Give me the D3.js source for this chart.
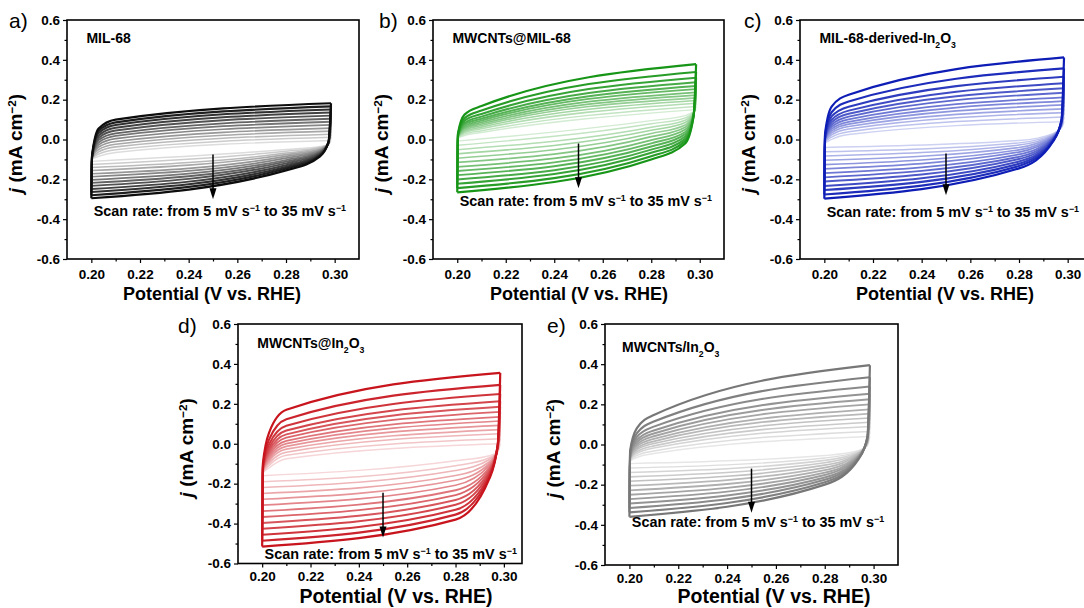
<!DOCTYPE html>
<html>
<head>
<meta charset="utf-8">
<script src="https://cdn.jsdelivr.net/npm/d3@7"></script>
<style>
  body { margin: 0; background: #fff; }
  svg { display: block; font-family: "Liberation Sans", Arial, sans-serif; }
</style>
</head>
<body>
<svg id="fig" width="1084" height="608"></svg>
<script>
// scan rates (mV/s), lightest loop first
const SCAN_RATES = [5, 7.5, 10, 12.5, 15, 17.5, 20, 22.5, 25, 27.5, 30, 32.5, 35];

const X_TICKS = [0.20, 0.22, 0.24, 0.26, 0.28, 0.30];
const X_TICK_LABELS = ["0.20", "0.22", "0.24", "0.26", "0.28", "0.30"];
const X_MINOR = [0.21, 0.23, 0.25, 0.27, 0.29];
const Y_TICKS = [-0.6, -0.4, -0.2, 0, 0.2, 0.4, 0.6];
const Y_TICK_LABELS = ["-0.6", "-0.4", "-0.2", "0.0", "0.2", "0.4", "0.6"];
const Y_MINOR = [-0.5, -0.3, -0.1, 0.1, 0.3, 0.5];

// potentials (V vs RHE) where each branch was read
const UP_X = [0.2000, 0.2003, 0.2030, 0.2100, 0.2985];   // anodic sweep
const LO_X = [0.2000, 0.2800, 0.2940, 0.2975, 0.2985];   // cathodic sweep

// one row per scan rate, j in mA cm-2:
// [0.200 start, up 0.2003, up 0.203, up 0.210, 0.2985 turn, down 0.280, down 0.294, down 0.2975]
const LOOPS_MIL68 = [
  [-0.110, -0.100, -0.085, -0.065, -0.005, -0.050, -0.035, -0.025],
  [-0.125, -0.098, -0.073, -0.051,  0.011, -0.059, -0.039, -0.024],
  [-0.141, -0.097, -0.062, -0.037,  0.026, -0.068, -0.043, -0.022],
  [-0.156, -0.095, -0.050, -0.024,  0.042, -0.076, -0.048, -0.021],
  [-0.172, -0.093, -0.038, -0.010,  0.057, -0.085, -0.052, -0.020],
  [-0.187, -0.092, -0.027,  0.004,  0.073, -0.094, -0.056, -0.019],
  [-0.203, -0.090, -0.015,  0.018,  0.089, -0.103, -0.060, -0.018],
  [-0.218, -0.088, -0.003,  0.031,  0.104, -0.111, -0.064, -0.016],
  [-0.233, -0.087,  0.008,  0.045,  0.120, -0.120, -0.068, -0.015],
  [-0.249, -0.085,  0.020,  0.059,  0.135, -0.129, -0.073, -0.014],
  [-0.264, -0.083,  0.032,  0.073,  0.151, -0.138, -0.077, -0.013],
  [-0.280, -0.082,  0.043,  0.086,  0.166, -0.146, -0.081, -0.011],
  [-0.295, -0.080,  0.055,  0.100,  0.182, -0.155, -0.085, -0.010]
];

const LOOPS_CNT_MIL68 = [
  [-0.008,  0.005,  0.020,  0.035,  0.150,  0.095,  0.120,  0.140],
  [-0.029,  0.007,  0.027,  0.044,  0.166,  0.079,  0.108,  0.138],
  [-0.051,  0.009,  0.035,  0.054,  0.182,  0.062,  0.097,  0.137],
  [-0.072,  0.010,  0.041,  0.062,  0.196,  0.046,  0.085,  0.135],
  [-0.094,  0.012,  0.047,  0.070,  0.209,  0.030,  0.073,  0.133],
  [-0.115,  0.013,  0.054,  0.078,  0.223,  0.014,  0.062,  0.132],
  [-0.137,  0.015,  0.060,  0.086,  0.237, -0.003,  0.050,  0.130],
  [-0.158,  0.016,  0.067,  0.095,  0.253, -0.019,  0.038,  0.128],
  [-0.179,  0.018,  0.075,  0.104,  0.269, -0.035,  0.027,  0.127],
  [-0.201,  0.020,  0.083,  0.115,  0.287, -0.051,  0.015,  0.125],
  [-0.222,  0.023,  0.094,  0.128,  0.310, -0.067,  0.003,  0.123],
  [-0.244,  0.026,  0.107,  0.145,  0.339, -0.084, -0.008,  0.122],
  [-0.265,  0.030,  0.125,  0.168,  0.378, -0.100, -0.020,  0.120]
];

const LOOPS_IN2O3 = [
  [-0.040, -0.020,  0.000,  0.025,  0.090, -0.005,  0.030,  0.060],
  [-0.061, -0.017,  0.012,  0.039,  0.113, -0.017,  0.027,  0.063],
  [-0.083, -0.013,  0.023,  0.053,  0.135, -0.028,  0.023,  0.067],
  [-0.104, -0.010,  0.033,  0.065,  0.154, -0.040,  0.020,  0.070],
  [-0.126, -0.007,  0.043,  0.077,  0.174, -0.052,  0.017,  0.073],
  [-0.147, -0.004,  0.053,  0.089,  0.193, -0.063,  0.013,  0.077],
  [-0.169, -0.001,  0.063,  0.101,  0.212, -0.075,  0.010,  0.080],
  [-0.190,  0.003,  0.074,  0.115,  0.235, -0.087,  0.007,  0.083],
  [-0.211,  0.006,  0.086,  0.129,  0.257, -0.098,  0.003,  0.087],
  [-0.233,  0.010,  0.099,  0.145,  0.283, -0.110,  0.000,  0.090],
  [-0.254,  0.015,  0.116,  0.165,  0.315, -0.122, -0.003,  0.093],
  [-0.276,  0.022,  0.137,  0.191,  0.357, -0.133, -0.007,  0.097],
  [-0.297,  0.030,  0.165,  0.225,  0.412, -0.145, -0.010,  0.100]
];

const LOOPS_CNT_AT_IN2O3 = [
  [-0.160, -0.150, -0.120, -0.075,  0.000, -0.085, -0.060, -0.040],
  [-0.190, -0.147, -0.108, -0.058,  0.025, -0.110, -0.070, -0.037],
  [-0.219, -0.143, -0.096, -0.042,  0.050, -0.134, -0.079, -0.033],
  [-0.249, -0.140, -0.086, -0.027,  0.071, -0.159, -0.089, -0.030],
  [-0.278, -0.137, -0.076, -0.013,  0.092, -0.183, -0.098, -0.027],
  [-0.308, -0.134, -0.066,  0.001,  0.114, -0.208, -0.108, -0.023],
  [-0.338, -0.131, -0.055,  0.015,  0.135, -0.233, -0.118, -0.020],
  [-0.367, -0.128, -0.044,  0.031,  0.160, -0.257, -0.127, -0.017],
  [-0.397, -0.124, -0.032,  0.047,  0.185, -0.282, -0.137, -0.013],
  [-0.426, -0.120, -0.018,  0.066,  0.213, -0.306, -0.146, -0.010],
  [-0.456, -0.115,  0.000,  0.090,  0.249, -0.331, -0.156, -0.007],
  [-0.486, -0.109,  0.025,  0.123,  0.295, -0.355, -0.165, -0.003],
  [-0.515, -0.100,  0.060,  0.170,  0.355, -0.380, -0.175,  0.000]
];

const LOOPS_CNT_MIX_IN2O3 = [
  [-0.095, -0.085, -0.065, -0.045,  0.040, -0.055, -0.030, -0.005],
  [-0.117, -0.081, -0.055, -0.032,  0.065, -0.067, -0.033, -0.001],
  [-0.139, -0.077, -0.045, -0.018,  0.090, -0.079, -0.037,  0.003],
  [-0.161, -0.074, -0.036, -0.007,  0.111, -0.091, -0.040,  0.006],
  [-0.183, -0.071, -0.027,  0.005,  0.132, -0.103, -0.043,  0.010],
  [-0.205, -0.067, -0.019,  0.016,  0.154, -0.115, -0.047,  0.014],
  [-0.228, -0.064, -0.010,  0.028,  0.175, -0.128, -0.050,  0.018],
  [-0.250, -0.060,  0.000,  0.041,  0.200, -0.140, -0.053,  0.021],
  [-0.272, -0.056,  0.010,  0.055,  0.225, -0.152, -0.057,  0.025],
  [-0.294, -0.052,  0.022,  0.070,  0.253, -0.164, -0.060,  0.029],
  [-0.316, -0.047,  0.037,  0.089,  0.289, -0.176, -0.063,  0.033],
  [-0.338, -0.039,  0.055,  0.114,  0.335, -0.188, -0.067,  0.036],
  [-0.360, -0.030,  0.080,  0.147,  0.395, -0.200, -0.070,  0.040]
];

// sample names as [text, style] pieces
const NAME_A = [["MIL-68"]];
const NAME_B = [["MWCNTs@MIL-68"]];
const NAME_C = [["MIL-68-derived-In"], ["2", "sub"], ["O"], ["3", "sub"]];
const NAME_D = [["MWCNTs@In"], ["2", "sub"], ["O"], ["3", "sub"]];
const NAME_E = [["MWCNTs/In"], ["2", "sub"], ["O"], ["3", "sub"]];

const SCAN_TEXT = [["Scan rate: from 5 mV s"], ["\u22121", "sup"], [" to 35 mV s"], ["\u22121", "sup"]];
const Y_TITLE = [["j", "it"], [" (mA cm"], ["\u22122", "sup"], [")"]];
const X_TITLE = "Potential (V vs. RHE)";

const ARROW_X = 0.25;

// layout of the five panels
const PANELS = [
  { letter: "a)", name: NAME_A, loops: LOOPS_MIL68, light: "#dcdcdc", dark: "#0d0d0d",
    left: 67, top: 20, right: 359, bottom: 259, xMax: 0.31, letterX: 9, letterY: 28,
    titleX: 212, titleY: 300, titleSize: 18, tickPad: 6,
    arrow: [-0.075, -0.30], scanY: -0.384, nameX: 0.198, nameY: 0.483 },
  { letter: "b)", name: NAME_B, loops: LOOPS_CNT_MIL68, light: "#d2ebd2", dark: "#179517",
    left: 433, top: 20, right: 724, bottom: 259, xMax: 0.31, letterX: 379, letterY: 28,
    titleX: 579, titleY: 300, titleSize: 18, tickPad: 6,
    arrow: [-0.02, -0.245], scanY: -0.334, nameX: 0.198, nameY: 0.483 },
  { letter: "c)", name: NAME_C, loops: LOOPS_IN2O3, light: "#cdd1f2", dark: "#0d1db5",
    left: 800, top: 20, right: 1092, bottom: 259, xMax: 0.31, letterX: 744, letterY: 28,
    titleX: 945, titleY: 300, titleSize: 18, tickPad: 6,
    arrow: [-0.07, -0.28], scanY: -0.39, nameX: 0.198, nameY: 0.483 },
  { letter: "d)", name: NAME_D, loops: LOOPS_CNT_AT_IN2O3, light: "#f6d6d8", dark: "#c8141c",
    left: 238, top: 324, right: 522, bottom: 563.5, xMax: 0.3075, letterX: 178, letterY: 333,
    titleX: 396, titleY: 603, titleSize: 19.5, tickPad: 4,
    arrow: [-0.245, -0.47], scanY: -0.578, nameX: 0.198, nameY: 0.48 },
  { letter: "e)", name: NAME_E, loops: LOOPS_CNT_MIX_IN2O3, light: "#e6e6e6", dark: "#777777",
    left: 605, top: 324, right: 898, bottom: 565, xMax: 0.31, letterX: 547, letterY: 333,
    titleX: 774, titleY: 603, titleSize: 19.5, tickPad: 4,
    arrow: [-0.12, -0.34], scanY: -0.41, nameX: 0.197, nameY: 0.46 }
];

const svg = d3.select("#fig");

function addRich(sel, parts) {
  parts.forEach(([t, kind]) => {
    const ts = sel.append("tspan").text(t);
    if (kind === "sub") ts.attr("baseline-shift", "sub").attr("font-size", "0.62em");
    if (kind === "sup") ts.attr("baseline-shift", "super").attr("font-size", "0.62em");
    if (kind === "it") ts.attr("font-style", "italic");
  });
  return sel;
}

function styleAxis(a, size) {
  a.attr("font-family", null).attr("font-size", size).attr("font-weight", "bold");
  a.select(".domain").remove();
  a.selectAll("line").attr("stroke-width", 1.2);
}

function drawPanel(p) {
  const x = d3.scaleLinear([0.19, p.xMax], [p.left, p.right]);
  const y = d3.scaleLinear([-0.6, 0.6], [p.bottom, p.top]);
  const g = svg.append("g");
  const n = p.loops.length;
  const color = d3.interpolateRgb(p.light, p.dark);

  const branch = d3.line()
    .x(d => x(d[0]))
    .y(d => y(d[1]))
    .curve(d3.curveMonotoneX);

  // CV loops, slowest scan first so the fast ones sit on top
  const loops = g.append("g").attr("fill", "none").attr("stroke-linejoin", "round");
  p.loops.forEach((r, i) => {
    const up = UP_X.map((v, k) => [v, r[k]]);
    const lo = LO_X.map((v, k) => [v, [r[0], r[5], r[6], r[7], r[4]][k]]);
    const c = color(i / (n - 1));
    const w = 1.4 + 0.8 * i / (n - 1);
    loops.append("path").attr("d", branch(up)).attr("stroke", c).attr("stroke-width", w);
    loops.append("path").attr("d", branch(lo)).attr("stroke", c).attr("stroke-width", w);
  });

  // axes, ticks outward
  g.append("g").attr("transform", `translate(${p.left},0)`)
    .call(d3.axisLeft(y).tickValues(Y_MINOR).tickSize(2.5).tickFormat(""))
    .call(a => styleAxis(a, 13.5));
  g.append("g").attr("transform", `translate(${p.left},0)`)
    .call(d3.axisLeft(y).tickValues(Y_TICKS).tickSize(4).tickPadding(3)
      .tickFormat((d, i) => Y_TICK_LABELS[i]))
    .call(a => styleAxis(a, 13.5));
  g.append("g").attr("transform", `translate(0,${p.bottom})`)
    .call(d3.axisBottom(x).tickValues(X_MINOR).tickSize(2.5).tickFormat(""))
    .call(a => styleAxis(a, 13.5));
  g.append("g").attr("transform", `translate(0,${p.bottom})`)
    .call(d3.axisBottom(x).tickValues(X_TICKS).tickSize(4).tickPadding(p.tickPad)
      .tickFormat((d, i) => X_TICK_LABELS[i]))
    .call(a => styleAxis(a, 13.5));

  g.append("rect")
    .attr("x", p.left).attr("y", p.top)
    .attr("width", p.right - p.left).attr("height", p.bottom - p.top)
    .attr("fill", "none").attr("stroke", "#000").attr("stroke-width", 1.6);

  // arrow: slow -> fast
  const ax = x(ARROW_X), y0 = y(p.arrow[0]), y1 = y(p.arrow[1]);
  g.append("line")
    .attr("x1", ax).attr("x2", ax).attr("y1", y0).attr("y2", y1 - 8)
    .attr("stroke", "#000").attr("stroke-width", 1.5);
  g.append("path")
    .attr("d", `M${ax - 3.5},${y1 - 11}L${ax + 3.5},${y1 - 11}L${ax},${y1}Z`)
    .attr("fill", "#000");

  // texts
  addRich(g.append("text")
    .attr("x", x(p.nameX)).attr("y", y(p.nameY))
    .attr("font-size", 14).attr("font-weight", "bold"), p.name);

  addRich(g.append("text")
    .attr("x", x(0.201)).attr("y", y(p.scanY))
    .attr("font-size", 14.4).attr("font-weight", "bold"), SCAN_TEXT);

  g.append("text")
    .attr("x", p.letterX).attr("y", p.letterY)
    .attr("font-size", 21)
    .text(p.letter);

  g.append("text")
    .attr("x", p.titleX).attr("y", p.titleY)
    .attr("text-anchor", "middle")
    .attr("font-size", p.titleSize).attr("font-weight", "bold")
    .text(X_TITLE);

  const cy = (p.top + p.bottom) / 2 + 4;
  addRich(g.append("text")
    .attr("transform", `translate(${p.left - 45},${cy}) rotate(-90)`)
    .attr("text-anchor", "middle")
    .attr("font-size", 19).attr("font-weight", "bold"), Y_TITLE);
}

PANELS.forEach(drawPanel);
</script>
</body>
</html>
